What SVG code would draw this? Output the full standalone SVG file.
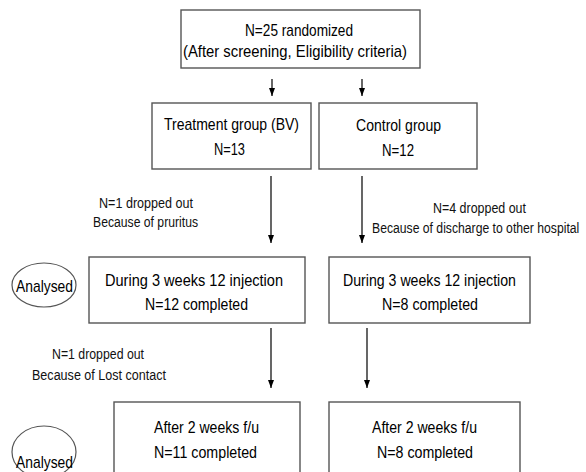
<svg xmlns="http://www.w3.org/2000/svg" width="586" height="472" viewBox="0 0 586 472">
<defs>
<marker id="ah" markerWidth="8" markerHeight="6" refX="8" refY="3" orient="auto" markerUnits="userSpaceOnUse" viewBox="0 0 8 6">
<path d="M0,0 L8,3 L0,6 Z" fill="#000"/>
</marker>
<style>
.box{fill:#fff;stroke:#555;stroke-width:1.4}
.ell{fill:#fff;stroke:#555;stroke-width:1.2}
.t{font-family:"Liberation Sans",Arial,sans-serif;font-size:17px;fill:#000}
.l{font-family:"Liberation Sans",Arial,sans-serif;font-size:15.5px;fill:#111}
.c{stroke:#000;stroke-width:1.2;fill:none}
</style>
</defs>
<rect width="586" height="472" fill="#fff"/>
<g id="connectors">
<line class="c" x1="272" y1="79" x2="272" y2="96" marker-end="url(#ah)"/>
<line class="c" x1="362" y1="79" x2="362" y2="96" marker-end="url(#ah)"/>
<line class="c" x1="271" y1="176" x2="271" y2="243" marker-end="url(#ah)"/>
<line class="c" x1="362" y1="176" x2="362" y2="243" marker-end="url(#ah)"/>
<line class="c" x1="271" y1="328" x2="271" y2="388" marker-end="url(#ah)"/>
<line class="c" x1="367" y1="328" x2="367" y2="388" marker-end="url(#ah)"/>
</g>
<g id="randomized">
<rect class="box" x="181" y="10" width="239" height="58"/>
<text class="t" x="245" y="36" textLength="108" lengthAdjust="spacingAndGlyphs">N=25 randomized</text>
<text class="t" x="183" y="57" textLength="224" lengthAdjust="spacingAndGlyphs">(After screening, Eligibility criteria)</text>
</g>
<g id="treatment">
<rect class="box" x="152" y="103" width="159" height="66"/>
<text class="t" x="164" y="130" textLength="135" lengthAdjust="spacingAndGlyphs">Treatment group (BV)</text>
<text class="t" x="214" y="155" textLength="31" lengthAdjust="spacingAndGlyphs">N=13</text>
</g>
<g id="control">
<rect class="box" x="319" y="103" width="158" height="66"/>
<text class="t" x="356" y="131" textLength="85" lengthAdjust="spacingAndGlyphs">Control group</text>
<text class="t" x="382" y="156" textLength="32" lengthAdjust="spacingAndGlyphs">N=12</text>
</g>
<g id="dropout1">
<text class="l" x="99" y="208" textLength="94" lengthAdjust="spacingAndGlyphs">N=1 dropped out</text>
<text class="l" x="93" y="227" textLength="105" lengthAdjust="spacingAndGlyphs">Because of pruritus</text>
</g>
<g id="dropout2">
<text class="l" x="433" y="213" textLength="93" lengthAdjust="spacingAndGlyphs">N=4 dropped out</text>
<text class="l" transform="translate(372,233) scale(1,1.26)" x="0" y="0" style="font-size:12.2px">Because of discharge to other hospital</text>
</g>
<g id="analysed1">
<ellipse class="ell" cx="44" cy="285" rx="32" ry="22"/>
<text class="t" x="16" y="292" textLength="57" lengthAdjust="spacingAndGlyphs">Analysed</text>
</g>
<g id="treat-3wk">
<rect class="box" x="89" y="257" width="216" height="66"/>
<text class="t" x="105" y="286" textLength="178" lengthAdjust="spacingAndGlyphs">During 3 weeks 12 injection</text>
<text class="t" x="145" y="310" textLength="103" lengthAdjust="spacingAndGlyphs">N=12 completed</text>
</g>
<g id="control-3wk">
<rect class="box" x="329" y="257" width="201" height="66"/>
<text class="t" x="343" y="286" textLength="173" lengthAdjust="spacingAndGlyphs">During 3 weeks 12 injection</text>
<text class="t" x="382" y="310" textLength="96" lengthAdjust="spacingAndGlyphs">N=8 completed</text>
</g>
<g id="dropout3">
<text class="l" x="52" y="359" textLength="92" lengthAdjust="spacingAndGlyphs">N=1 dropped out</text>
<text class="l" x="32" y="380" textLength="134" lengthAdjust="spacingAndGlyphs">Because of Lost contact</text>
</g>
<g id="analysed2">
<ellipse class="ell" cx="44" cy="452" rx="32" ry="26"/>
<text class="t" x="16" y="468" textLength="57" lengthAdjust="spacingAndGlyphs">Analysed</text>
</g>
<g id="treat-fu">
<rect class="box" x="114" y="402" width="186" height="80"/>
<text class="t" x="154" y="433" textLength="105" lengthAdjust="spacingAndGlyphs">After 2 weeks f/u</text>
<text class="t" x="154" y="458" textLength="103" lengthAdjust="spacingAndGlyphs">N=11 completed</text>
</g>
<g id="control-fu">
<rect class="box" x="329" y="402" width="191" height="80"/>
<text class="t" x="372" y="433" textLength="105" lengthAdjust="spacingAndGlyphs">After 2 weeks f/u</text>
<text class="t" x="377" y="458" textLength="96" lengthAdjust="spacingAndGlyphs">N=8 completed</text>
</g>
</svg>
